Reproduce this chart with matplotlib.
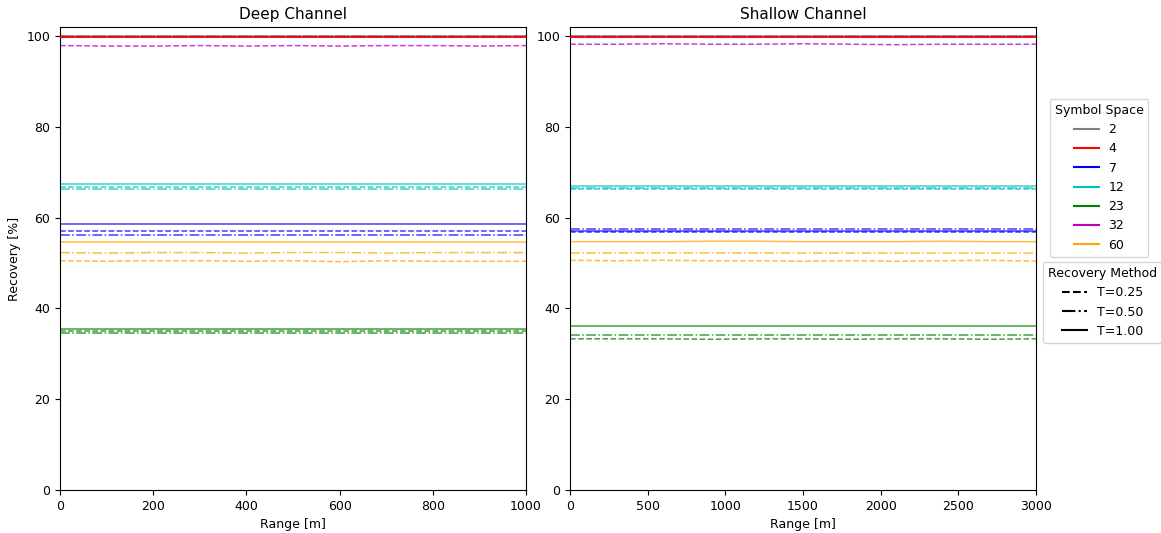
import matplotlib
matplotlib.use('Agg')
import matplotlib.pyplot as plt
from matplotlib.lines import Line2D

# symbol spaces and their colours
symbols = [2, 4, 7, 12, 23, 32, 60]
colors = ['gray', 'red', 'blue', 'c', 'green', 'm', 'orange']
methods = ['T=0.25', 'T=0.50', 'T=1.00']
styles = ['--', '-.', '-']

# range grid (m)
deep_range = [0, 100, 200, 300, 400, 500, 600, 700, 800, 900, 1000]
shallow_range = [0, 300, 600, 900, 1200, 1500, 1800, 2100, 2400, 2700, 3000]

# Deep channel recovery [%], per symbol space
deep_t025 = {
    2: [100.0, 100.0, 100.0, 100.0, 100.0, 100.0, 100.0, 100.0, 100.0, 100.0, 100.0],
    4: [99.7, 99.7, 99.7, 99.7, 99.7, 99.7, 99.7, 99.7, 99.7, 99.7, 99.7],
    7: [57.1, 57.1, 57.1, 57.1, 57.1, 57.1, 57.1, 57.1, 57.1, 57.1, 57.1],
    12: [66.8, 66.8, 66.8, 66.8, 66.8, 66.8, 66.8, 66.8, 66.8, 66.8, 66.8],
    23: [35.0, 35.0, 35.0, 35.0, 35.0, 35.0, 35.0, 35.0, 35.0, 35.0, 35.0],
    32: [97.9, 97.8, 97.8, 97.9, 97.8, 97.9, 97.8, 97.9, 97.9, 97.8, 97.9],
    60: [50.5, 50.4, 50.5, 50.5, 50.4, 50.5, 50.3, 50.5, 50.4, 50.4, 50.4],
}
deep_t050 = {
    2: [100.0, 100.0, 100.0, 100.0, 100.0, 100.0, 100.0, 100.0, 100.0, 100.0, 100.0],
    4: [99.8, 99.8, 99.8, 99.8, 99.8, 99.8, 99.8, 99.8, 99.8, 99.8, 99.8],
    7: [56.1, 56.1, 56.1, 56.1, 56.1, 56.1, 56.1, 56.1, 56.1, 56.1, 56.1],
    12: [66.4, 66.4, 66.4, 66.4, 66.4, 66.4, 66.4, 66.4, 66.4, 66.4, 66.4],
    23: [34.5, 34.5, 34.5, 34.5, 34.5, 34.5, 34.5, 34.5, 34.5, 34.5, 34.5],
    32: [99.8, 99.8, 99.8, 99.8, 99.8, 99.8, 99.8, 99.8, 99.8, 99.8, 99.8],
    60: [52.3, 52.2, 52.3, 52.3, 52.2, 52.3, 52.3, 52.2, 52.3, 52.3, 52.3],
}
deep_t100 = {
    2: [100.0, 100.0, 100.0, 100.0, 100.0, 100.0, 100.0, 100.0, 100.0, 100.0, 100.0],
    4: [99.9, 99.9, 99.9, 99.9, 99.9, 99.9, 99.9, 99.9, 99.9, 99.9, 99.9],
    7: [58.5, 58.5, 58.5, 58.5, 58.5, 58.5, 58.5, 58.5, 58.5, 58.5, 58.5],
    12: [67.3, 67.3, 67.3, 67.3, 67.3, 67.3, 67.3, 67.3, 67.3, 67.3, 67.3],
    23: [35.5, 35.5, 35.5, 35.5, 35.5, 35.5, 35.5, 35.5, 35.5, 35.5, 35.5],
    32: [99.9, 99.9, 99.9, 99.9, 99.9, 99.9, 99.9, 99.9, 99.9, 99.9, 99.9],
    60: [54.7, 54.7, 54.7, 54.7, 54.7, 54.7, 54.7, 54.7, 54.7, 54.7, 54.7],
}

# Shallow channel recovery [%], per symbol space
shallow_t025 = {
    2: [100.0, 100.0, 100.0, 100.0, 100.0, 100.0, 100.0, 100.0, 100.0, 100.0, 100.0],
    4: [99.7, 99.7, 99.7, 99.7, 99.7, 99.7, 99.7, 99.7, 99.7, 99.7, 99.7],
    7: [56.8, 56.8, 56.8, 56.8, 56.8, 56.8, 56.8, 56.8, 56.8, 56.8, 56.8],
    12: [66.4, 66.4, 66.4, 66.4, 66.4, 66.4, 66.4, 66.4, 66.4, 66.4, 66.4],
    23: [33.3, 33.3, 33.3, 33.2, 33.3, 33.3, 33.2, 33.3, 33.3, 33.2, 33.3],
    32: [98.2, 98.2, 98.3, 98.2, 98.2, 98.3, 98.2, 98.1, 98.2, 98.2, 98.2],
    60: [50.6, 50.5, 50.6, 50.5, 50.5, 50.4, 50.5, 50.4, 50.5, 50.6, 50.4],
}
shallow_t050 = {
    2: [100.0, 100.0, 100.0, 100.0, 100.0, 100.0, 100.0, 100.0, 100.0, 100.0, 100.0],
    4: [99.8, 99.8, 99.8, 99.8, 99.8, 99.8, 99.8, 99.8, 99.8, 99.8, 99.8],
    7: [57.4, 57.4, 57.4, 57.4, 57.4, 57.4, 57.4, 57.4, 57.4, 57.4, 57.4],
    12: [66.5, 66.5, 66.5, 66.5, 66.5, 66.5, 66.5, 66.5, 66.5, 66.5, 66.5],
    23: [34.1, 34.1, 34.1, 34.1, 34.1, 34.1, 34.1, 34.1, 34.1, 34.1, 34.1],
    32: [99.8, 99.8, 99.8, 99.8, 99.8, 99.8, 99.8, 99.8, 99.8, 99.8, 99.8],
    60: [52.2, 52.2, 52.2, 52.2, 52.2, 52.2, 52.2, 52.2, 52.2, 52.2, 52.2],
}
shallow_t100 = {
    2: [100.0, 100.0, 100.0, 100.0, 100.0, 100.0, 100.0, 100.0, 100.0, 100.0, 100.0],
    4: [99.9, 99.9, 99.9, 99.9, 99.9, 99.9, 99.9, 99.9, 99.9, 99.9, 99.9],
    7: [57.1, 57.1, 57.1, 57.1, 57.1, 57.1, 57.1, 57.1, 57.1, 57.1, 57.1],
    12: [67.0, 67.0, 67.0, 67.0, 67.0, 67.0, 67.0, 67.0, 67.0, 67.0, 67.0],
    23: [36.2, 36.2, 36.2, 36.2, 36.2, 36.2, 36.2, 36.2, 36.2, 36.2, 36.2],
    32: [99.9, 99.9, 99.9, 99.9, 99.9, 99.9, 99.9, 99.9, 99.9, 99.9, 99.9],
    60: [54.7, 54.7, 54.7, 54.8, 54.8, 54.7, 54.7, 54.7, 54.8, 54.7, 54.7],
}

panels = [
    ('Deep Channel', deep_range, [deep_t025, deep_t050, deep_t100], [0, 200, 400, 600, 800, 1000]),
    ('Shallow Channel', shallow_range, [shallow_t025, shallow_t050, shallow_t100],
     [0, 500, 1000, 1500, 2000, 2500, 3000]),
]

fig = plt.figure(figsize=(11.61, 5.33), dpi=100)
ax_pos = [[0.0517, 0.0807, 0.4014, 0.8687], [0.4910, 0.0807, 0.4014, 0.8687]]

for pos, (title, rng, data, xticks) in zip(ax_pos, panels):
    ax = fig.add_axes(pos)
    for sym, col in zip(symbols, colors):
        # red sits on top of the near-100 bundle in the original
        z = 3 if col == 'red' else 2
        for dset, ls in zip(data, styles):
            ax.plot(rng, dset[sym], color=col, linestyle=ls, linewidth=1.1,
                    alpha=0.75, zorder=z)
    ax.set_xlim(rng[0], rng[-1])
    ax.set_ylim(0, 102)
    ax.set_xticks(xticks)
    ax.set_yticks([0, 20, 40, 60, 80, 100])
    ax.set_title(title, fontsize=11)
    ax.set_xlabel('Range [m]', fontsize=9)
    if title == 'Deep Channel':
        ax.set_ylabel('Recovery [%]', fontsize=9)
    ax.tick_params(labelsize=9)

# legends
sym_handles = [Line2D([], [], color=c, linestyle='-') for c in colors]
leg1 = fig.legend(sym_handles, [str(s) for s in symbols], title='Symbol Space',
                  loc='upper left', bbox_to_anchor=(0.8986, 0.826), fontsize=9,
                  title_fontsize=9, handlelength=2)
meth_handles = [Line2D([], [], color='black', linestyle=ls) for ls in styles]
leg2 = fig.legend(meth_handles, methods, title='Recovery Method',
                  loc='upper left', bbox_to_anchor=(0.8927, 0.520), fontsize=9,
                  title_fontsize=9, handlelength=2)

fig.savefig('out.png', dpi=100)
